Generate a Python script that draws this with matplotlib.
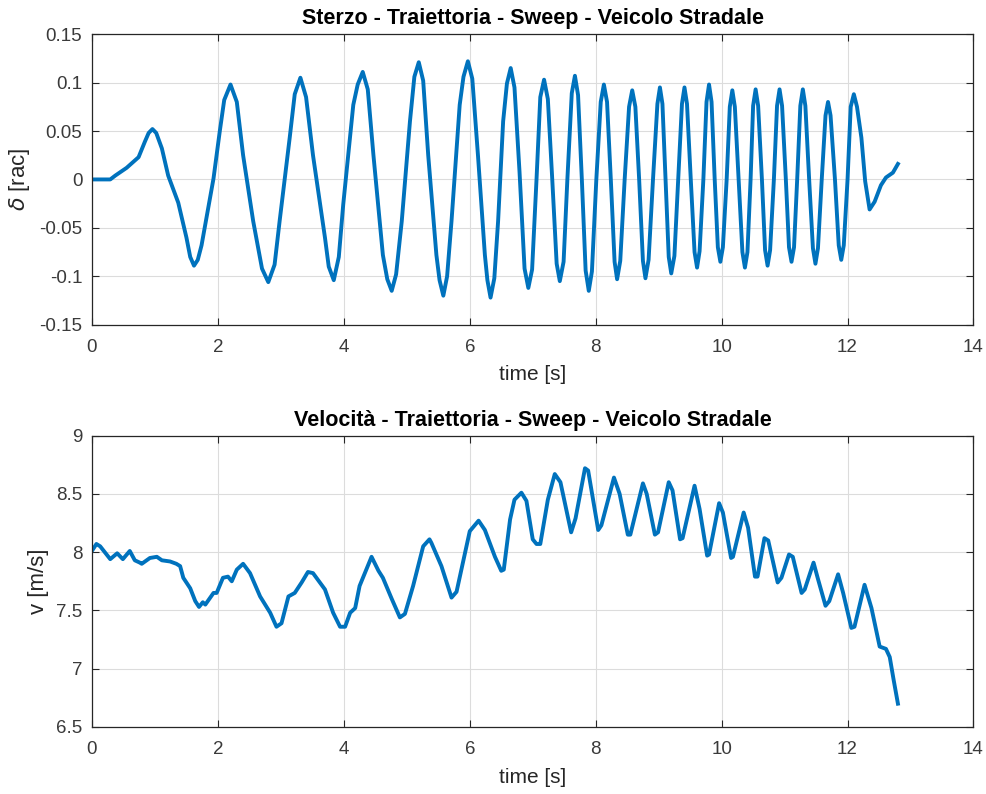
import numpy as np
import matplotlib
matplotlib.use("Agg")
import matplotlib.pyplot as plt

# sterzo (angolo volante)
t_delta = [0.00, 0.29, 0.37, 0.55, 0.74, 0.84, 0.90, 0.96, 1.02, 1.11, 1.21, 1.37, 1.50, 1.56, 1.62, 1.68, 1.74,
           1.93, 2.03, 2.10, 2.20, 2.30, 2.40, 2.56, 2.70, 2.80, 2.90, 2.98, 3.14, 3.22, 3.31, 3.40, 3.51,
           3.70, 3.76, 3.84, 3.92, 3.99, 4.15, 4.22, 4.30, 4.38, 4.47, 4.62, 4.69, 4.76, 4.83, 4.92,
           5.05, 5.12, 5.19, 5.26, 5.34, 5.47, 5.52, 5.58, 5.64, 5.71, 5.84, 5.90, 5.97, 6.04, 6.13,
           6.24, 6.28, 6.33, 6.39, 6.45, 6.53, 6.59, 6.65, 6.71, 6.79, 6.87, 6.93, 6.99, 7.06,
           7.12, 7.18, 7.24, 7.31, 7.38, 7.43, 7.49, 7.55, 7.62, 7.67, 7.72, 7.78, 7.84, 7.89, 7.94, 8.01,
           8.08, 8.13, 8.18, 8.24, 8.30, 8.34, 8.39, 8.46, 8.53, 8.58, 8.63, 8.69, 8.75, 8.79, 8.84, 8.91,
           8.98, 9.02, 9.06, 9.11, 9.16, 9.20, 9.25, 9.31, 9.37, 9.41, 9.45, 9.51, 9.57, 9.61, 9.65, 9.71,
           9.76, 9.80, 9.84, 9.89, 9.94, 9.98, 10.02, 10.08, 10.13, 10.17, 10.21, 10.27, 10.33, 10.37, 10.41,
           10.46, 10.50, 10.54, 10.58, 10.64, 10.69, 10.73, 10.77, 10.83, 10.88, 10.92, 10.96, 11.02,
           11.07, 11.11, 11.15, 11.20, 11.25, 11.29, 11.33, 11.39, 11.45, 11.49, 11.53, 11.59,
           11.65, 11.69, 11.73, 11.80, 11.86, 11.90, 11.94, 12.00, 12.05, 12.10, 12.15, 12.22, 12.28,
           12.35, 12.43, 12.53, 12.61, 12.72, 12.80]
delta = [0.000, 0.000, 0.004, 0.012, 0.023, 0.039, 0.048, 0.052, 0.048, 0.032, 0.004, -0.024, -0.060, -0.080, -0.089, -0.083, -0.068,
         0.001, 0.050, 0.082, 0.098, 0.080, 0.025, -0.043, -0.092, -0.106, -0.088, -0.043, 0.043, 0.088, 0.105, 0.085, 0.025,
         -0.060, -0.090, -0.104, -0.080, -0.026, 0.077, 0.098, 0.111, 0.093, 0.025, -0.078, -0.103, -0.115, -0.098, -0.043,
         0.060, 0.106, 0.121, 0.102, 0.025, -0.078, -0.104, -0.120, -0.100, -0.043, 0.077, 0.106, 0.122, 0.104, 0.025,
         -0.078, -0.104, -0.122, -0.102, -0.043, 0.060, 0.099, 0.115, 0.095, 0.008, -0.092, -0.112, -0.093, 0.000,
         0.085, 0.103, 0.083, 0.000, -0.087, -0.105, -0.085, 0.000, 0.089, 0.107, 0.087, 0.000, -0.094, -0.115, -0.095, 0.000,
         0.080, 0.098, 0.080, 0.000, -0.085, -0.103, -0.084, 0.000, 0.075, 0.092, 0.075, 0.000, -0.084, -0.102, -0.083, 0.000,
         0.078, 0.095, 0.078, 0.000, -0.080, -0.097, -0.079, 0.000, 0.078, 0.095, 0.078, 0.000, -0.075, -0.091, -0.074, 0.000,
         0.080, 0.098, 0.080, 0.000, -0.070, -0.085, -0.070, 0.000, 0.075, 0.092, 0.075, 0.000, -0.075, -0.091, -0.075,
         0.000, 0.076, 0.093, 0.076, 0.000, -0.073, -0.089, -0.073, 0.000, 0.076, 0.093, 0.076, 0.000,
         -0.070, -0.085, -0.070, 0.000, 0.076, 0.093, 0.076, 0.000, -0.071, -0.087, -0.071, 0.000,
         0.066, 0.080, 0.066, 0.000, -0.068, -0.083, -0.068, 0.000, 0.075, 0.088, 0.075, 0.043, -0.002,
         -0.031, -0.023, -0.006, 0.002, 0.007, 0.016]

# velocita'
t_v = [0.01, 0.07, 0.13, 0.29, 0.40, 0.49, 0.60, 0.68, 0.76, 0.79, 0.92, 1.03, 1.11, 1.24, 1.34, 1.40, 1.45,
       1.56, 1.64, 1.70, 1.76, 1.80, 1.93, 1.98, 2.08, 2.16, 2.22, 2.30, 2.40, 2.51, 2.67, 2.83, 2.93, 3.01,
       3.12, 3.22, 3.33, 3.43, 3.51, 3.70, 3.83, 3.94, 4.02, 4.10, 4.18, 4.25, 4.44, 4.55, 4.62, 4.76, 4.89,
       4.97, 5.10, 5.26, 5.36, 5.39, 5.55, 5.71, 5.79, 6.00, 6.14, 6.24, 6.40, 6.50, 6.54, 6.64, 6.71, 6.82,
       6.90, 7.00, 7.06, 7.12, 7.24, 7.35, 7.44, 7.53, 7.61, 7.68, 7.83, 7.88, 8.04, 8.09, 8.29, 8.38, 8.51,
       8.55, 8.75, 8.81, 8.94, 8.99, 9.16, 9.22, 9.34, 9.38, 9.57, 9.65, 9.77, 9.80, 9.96, 10.02, 10.15, 10.18,
       10.35, 10.42, 10.53, 10.57, 10.68, 10.74, 10.89, 10.95, 11.07, 11.13, 11.27, 11.32, 11.46, 11.53, 11.65,
       11.71, 11.85, 11.93, 12.06, 12.11, 12.27, 12.38, 12.51, 12.61, 12.67, 12.73, 12.80]
v = [8.02, 8.07, 8.05, 7.94, 7.99, 7.94, 8.01, 7.93, 7.91, 7.90, 7.95, 7.96, 7.93, 7.92, 7.90, 7.88, 7.78,
     7.69, 7.58, 7.53, 7.57, 7.55, 7.65, 7.65, 7.78, 7.79, 7.75, 7.85, 7.90, 7.82, 7.62, 7.48, 7.36, 7.39,
     7.62, 7.65, 7.74, 7.83, 7.82, 7.68, 7.48, 7.36, 7.36, 7.48, 7.52, 7.71, 7.96, 7.84, 7.78, 7.60, 7.44,
     7.47, 7.71, 8.05, 8.11, 8.08, 7.88, 7.61, 7.66, 8.18, 8.27, 8.19, 7.96, 7.84, 7.85, 8.28, 8.45, 8.51,
     8.44, 8.11, 8.07, 8.07, 8.45, 8.67, 8.60, 8.37, 8.17, 8.29, 8.72, 8.70, 8.19, 8.23, 8.64, 8.50, 8.15,
     8.15, 8.59, 8.50, 8.15, 8.17, 8.60, 8.53, 8.11, 8.12, 8.57, 8.37, 7.97, 7.98, 8.42, 8.34, 7.95, 7.96,
     8.34, 8.21, 7.79, 7.79, 8.12, 8.10, 7.74, 7.78, 7.98, 7.96, 7.65, 7.68, 7.91, 7.77, 7.54,
     7.58, 7.81, 7.65, 7.35, 7.36, 7.72, 7.52, 7.19, 7.17, 7.10, 6.91, 6.70]

x_ticks = [0, 2, 4, 6, 8, 10, 12, 14]
delta_ticks = [-0.15, -0.1, -0.05, 0, 0.05, 0.1, 0.15]
delta_labels = ['-0.15', '-0.1', '-0.05', '0', '0.05', '0.1', '0.15']
v_ticks = [6.5, 7, 7.5, 8, 8.5, 9]
v_labels = ['6.5', '7', '7.5', '8', '8.5', '9']

plt.rcParams['font.family'] = ['Liberation Sans', 'DejaVu Sans']

fig = plt.figure(figsize=(9.86, 7.94), dpi=100)
ax1 = fig.add_axes([0.0933, 0.591, 0.894, 0.366])
ax2 = fig.add_axes([0.0933, 0.0844, 0.894, 0.367])

blu = '#0072BD'
scuro = '#262626'


def stile(ax, yt, yl, ylim):
    ax.set_xlim(0, 14)
    ax.set_ylim(*ylim)
    ax.set_xticks(x_ticks)
    ax.set_xticklabels([str(x) for x in x_ticks])
    ax.set_yticks(yt)
    ax.set_yticklabels(yl)
    ax.grid(True, color='#dcdcdc', linewidth=0.8)
    ax.set_axisbelow(True)
    ax.tick_params(direction='in', top=True, right=True, length=5, width=0.8,
                   colors=scuro, labelcolor='#3a3a3a', labelsize=13.5)
    ax.tick_params(axis='x', pad=10)
    ax.tick_params(axis='y', pad=7)
    for s in ax.spines.values():
        s.set_color(scuro)
        s.set_linewidth(0.9)
    ax.set_xlabel('time [s]', fontsize=15, color=scuro, labelpad=7)


ax1.plot(t_delta, delta, color=blu, linewidth=2.8, solid_joinstyle='round')
stile(ax1, delta_ticks, delta_labels, (-0.15, 0.15))
ax1.set_ylabel(r'$\delta$ [rac]', fontsize=16, color=scuro, labelpad=5)
ax1.set_title('Sterzo - Traiettoria - Sweep - Veicolo Stradale', fontsize=15.5, fontweight='bold', pad=7)

ax2.plot(t_v, v, color=blu, linewidth=2.8, solid_joinstyle='round')
stile(ax2, v_ticks, v_labels, (6.5, 9))
ax2.set_ylabel('v [m/s]', fontsize=16, color=scuro, labelpad=5)
ax2.set_title('Velocità - Traiettoria - Sweep - Veicolo Stradale', fontsize=15.5, fontweight='bold', pad=7)

fig.savefig('out.png', dpi=100)
